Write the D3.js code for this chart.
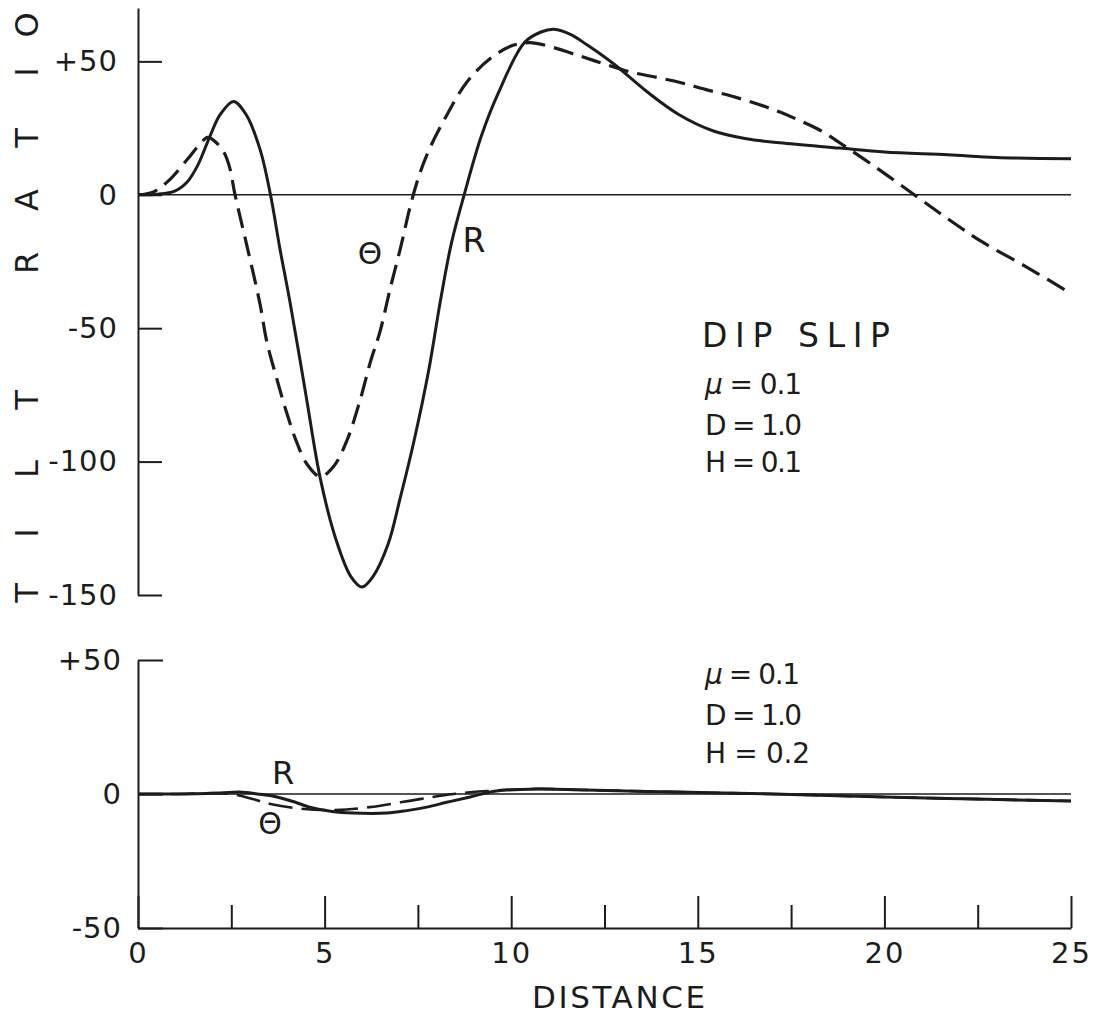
<!DOCTYPE html>
<html>
<head>
<meta charset="utf-8">
<script src="https://cdn.jsdelivr.net/npm/d3@7"></script>
<style>
  body { margin: 0; background: #fff; }
  svg { display: block; }
  .curve { fill: none; stroke: #1c1c1c; stroke-linecap: butt; stroke-linejoin: round; }
  .axis path, .axis line { stroke: #1c1c1c; stroke-width: 2; }
  .zero { stroke: #1c1c1c; stroke-width: 1.4; }
  text { fill: #1c1c1c; }
</style>
</head>
<body>
<script>
// distance axis ticks
var distTicks = [0, 5, 10, 15, 20, 25];
var distMinor = [2.5, 7.5, 12.5, 17.5, 22.5];
// tilt ratio ticks
var topTicks = [-150, -100, -50, 0, 50];
var botTicks = [-50, 0, 50];

// H = 0.1 panel, [distance, tilt ratio]
var topR = [[0, 0], [0.5, 0.2], [1.0, 1.5], [1.33, 5], [1.6, 11], [1.93, 22], [2.2, 30],
  [2.56, 35], [2.9, 30], [3.27, 17], [3.55, 0], [3.8, -20], [4.07, -40], [4.5, -75],
  [4.88, -106], [5.3, -129], [5.7, -143], [6.0, -147], [6.3, -143], [6.7, -131],
  [7.02, -114], [7.4, -92], [7.8, -65], [8.1, -40], [8.4, -18], [8.74, 0], [9.2, 22],
  [9.65, 38], [10.35, 57], [10.8, 61], [11.15, 62], [11.6, 60], [12.05, 56], [12.75, 49],
  [13.65, 38.5], [14.5, 30], [15.4, 24], [16.3, 21], [17.2, 19.5], [18.8, 17.5], [20, 16],
  [21.7, 15], [23, 14], [25, 13.5]];
var topTheta = [[0, 0], [0.4, 1], [0.8, 5], [1.33, 13.4], [1.6, 18], [1.87, 21.5],
  [2.1, 19.5], [2.3, 16], [2.46, 10], [2.6, 0], [2.9, -18], [3.27, -41], [3.45, -55],
  [3.72, -69], [3.99, -82], [4.26, -93], [4.53, -101], [4.88, -105.6], [5.23, -102],
  [5.6, -92], [5.95, -77], [6.22, -63], [6.49, -51], [6.76, -35], [7.05, -19], [7.3, -4],
  [7.55, 8], [7.82, 17.5], [8.28, 30], [8.8, 42], [9.43, 51], [10.05, 56], [10.5, 57],
  [11.0, 55.7], [11.85, 52], [12.5, 49], [13.2, 46], [13.9, 44], [14.55, 42], [15.2, 39.5],
  [15.9, 37], [16.6, 34], [17.2, 31], [17.7, 28], [18.3, 24], [18.8, 19.5], [19.8, 10],
  [20.8, 0], [21.7, -9], [22.6, -17.5], [23.8, -27], [25, -37]];

// H = 0.2 panel
var botR = [[0, 0], [1, 0], [2.2, 0.4], [2.73, 0.7], [3.2, 0], [3.72, -1.1], [4.2, -3],
  [4.6, -4.9], [5.2, -6.5], [5.76, -7.1], [6.67, -7.1], [7.2, -6.2], [7.74, -4.9],
  [8.3, -3], [8.9, -1.1], [9.6, 1.1], [10.7, 1.9], [12, 1.5], [14.5, 0.7], [17, 0],
  [20, -1.1], [22.5, -1.9], [25, -2.6]];
var botTheta = [[0, 0], [1, 0], [2.2, 0.3], [2.65, -0.4], [3.1, -2], [3.55, -3.7],
  [4.45, -5.6], [5.3, -6], [6.2, -4.9], [7.55, -1.9], [8.45, 0], [9.35, 1.1], [10.7, 1.9],
  [12, 1.5], [14.5, 0.7], [17, 0], [20, -1.1], [22.5, -1.9], [25, -2.6]];

var topParams = ["0.1", "1.0", "0.1"];
var botParams = ["0.1", "1.0", "0.2"];

var width = 1108, height = 1014;
var font = "'DejaVu Sans', 'Noto Sans', sans-serif";

var svg = d3.select("body").append("svg")
  .attr("width", width)
  .attr("height", height)
  .style("font-family", font);

var x = d3.scaleLinear().domain([0, 25]).range([138, 1071]);
var yTop = d3.scaleLinear().domain([-150, 70]).range([595, 8]);
var yBot = d3.scaleLinear().domain([-50, 50]).range([928, 660]);

function signed(d) {
  return d > 0 ? "+" + d : d < 0 ? "-" + (-d) : "0";
}

function styleAxis(g, size, spacing) {
  g.attr("font-family", null).attr("font-size", null);
  g.selectAll("text")
    .style("font-size", size + "px")
    .style("letter-spacing", (spacing || 0) + "px")
    .attr("fill", "#1c1c1c");
}

// upper panel: left axis only
svg.append("g").attr("class", "axis")
  .attr("transform", "translate(" + x(0) + ",0)")
  .call(d3.axisLeft(yTop).tickValues(topTicks).tickSizeInner(-24).tickSizeOuter(0)
    .tickPadding(20).tickFormat(signed))
  .call(styleAxis, 29, 1);

// lower panel: left axis and distance axis
svg.append("g").attr("class", "axis")
  .attr("transform", "translate(" + x(0) + ",0)")
  .call(d3.axisLeft(yBot).tickValues(botTicks).tickSizeInner(-25).tickSizeOuter(0)
    .tickPadding(16).tickFormat(signed))
  .call(styleAxis, 29, 1);

svg.append("g").attr("class", "axis")
  .attr("transform", "translate(0," + yBot(-50) + ")")
  .call(d3.axisBottom(x).tickValues(distTicks).tickSizeInner(-32).tickSizeOuter(0)
    .tickPadding(14).tickFormat(d3.format("d")))
  .call(styleAxis, 29, 2);

svg.append("g").attr("class", "axis")
  .attr("transform", "translate(0," + yBot(-50) + ")")
  .call(d3.axisBottom(x).tickValues(distMinor).tickSizeInner(-23).tickSizeOuter(0)
    .tickFormat(""))
  .call(function(g) { g.select(".domain").remove(); });

// zero lines
[yTop, yBot].forEach(function(y) {
  svg.append("line").attr("class", "zero")
    .attr("x1", x(0)).attr("x2", x(25))
    .attr("y1", y(0)).attr("y2", y(0));
});

function drawCurve(data, y, dash, w) {
  var line = d3.line()
    .x(function(d) { return x(d[0]); })
    .y(function(d) { return y(d[1]); })
    .curve(d3.curveCatmullRom.alpha(0.5));
  svg.append("path").datum(data)
    .attr("class", "curve")
    .attr("d", line)
    .attr("stroke-width", w)
    .attr("stroke-dasharray", dash);
}

drawCurve(topR, yTop, null, 3);
drawCurve(topTheta, yTop, "20,9", 3.2);
drawCurve(botR, yBot, null, 3);
drawCurve(botTheta, yBot, "24,9", 2.6);

// curve labels
function label(txt, cx, cy, size) {
  svg.append("text")
    .attr("x", cx).attr("y", cy)
    .attr("text-anchor", "middle")
    .attr("dy", "0.36em")
    .style("font-size", size + "px")
    .text(txt);
}
label("R", 474, 240, 33);
label("\u0398", 370, 253, 31);
label("R", 283, 772, 32);
label("\u0398", 270, 823, 30);

// vertical axis title, one letter at a time
var titleY = [593, 533, 469, 400, 332, 263, 200, 138, 72, 25];
"TILT RATIO".split("").forEach(function(c, i) {
  if (c === " ") return;
  svg.append("text")
    .attr("transform", "translate(26," + titleY[i] + ") rotate(-90)")
    .attr("text-anchor", "middle")
    .attr("dy", "0.36em")
    .style("font-size", "32px")
    .text(c);
});

svg.append("text")
  .attr("x", 532).attr("y", 1008)
  .attr("textLength", 173).attr("lengthAdjust", "spacing")
  .style("font-size", "31px")
  .text("DISTANCE");

svg.append("text")
  .attr("x", 702).attr("y", 347)
  .attr("textLength", 188).attr("lengthAdjust", "spacing")
  .style("font-size", "33px")
  .text("DIP SLIP");

function params(vals, baselines, widths) {
  ["\u03bc", "D", "H"].forEach(function(name, i) {
    var t = svg.append("text")
      .attr("x", 705).attr("y", baselines[i])
      .attr("textLength", widths[i]).attr("lengthAdjust", "spacing")
      .style("font-size", "28px");
    t.append("tspan").style("font-style", i === 0 ? "italic" : "normal").text(name);
    t.append("tspan").text(" = " + vals[i]);
  });
}
params(topParams, [394, 435, 472], [97, 97, 97]);
params(botParams, [684, 725, 763], [95, 97, 105]);
</script>
</body>
</html>
